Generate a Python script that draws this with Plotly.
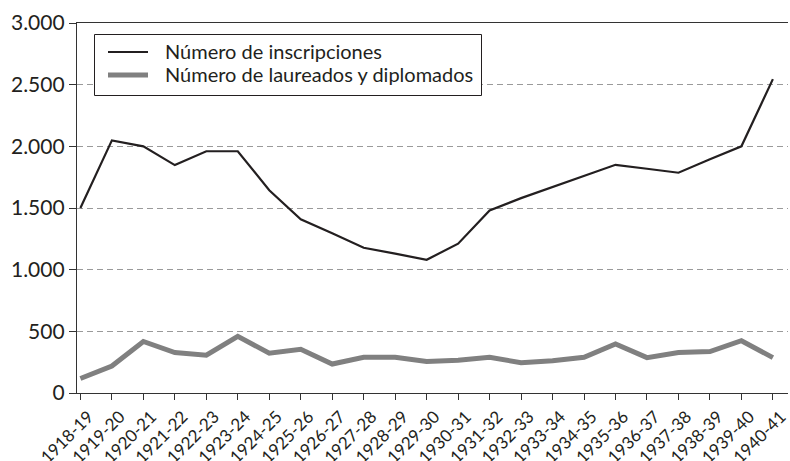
import plotly.graph_objects as go

categories = ["1918-19", "1919-20", "1920-21", "1921-22", "1922-23", "1923-24",
              "1924-25", "1925-26", "1926-27", "1927-28", "1928-29", "1929-30",
              "1930-31", "1931-32", "1932-33", "1933-34", "1934-35", "1935-36",
              "1936-37", "1937-38", "1938-39", "1939-40", "1940-41"]

inscripciones = [1500, 2048, 2000, 1848, 1960, 1960, 1644, 1408, 1295, 1178,
                 1130, 1080, 1211, 1480, 1580, 1670, 1760, 1850, 1818, 1786,
                 1895, 2000, 2545]

laureados = [118, 219, 418, 328, 306, 459, 323, 355, 235, 290, 290, 255, 265,
             290, 245, 262, 290, 397, 287, 328, 336, 424, 287]

y_ticks = [0, 500, 1000, 1500, 2000, 2500, 3000]

series_names = ["Número de inscripciones", "Número de laureados y diplomados"]

FONT = "Lato, 'Open Sans', sans-serif"
INK = "#231f20"
GRAY = "#808080"

W, H = 790, 461
ML, MR, MT, MB = 77, 2, 23, 68
PW, PH = W - ML - MR, H - MT - MB


def px_x(px):
    return (px - ML) / PW


def px_y(py):
    return 1 - (py - MT) / PH


fig = go.Figure()
fig.add_trace(go.Scatter(
    x=categories, y=inscripciones, mode="lines",
    name=series_names[0],
    line=dict(color=INK, width=2.2),
))
fig.add_trace(go.Scatter(
    x=categories, y=laureados, mode="lines",
    name=series_names[1],
    line=dict(color=GRAY, width=5),
))

# Legend drawn as box + samples + texts
shapes = [
    dict(type="rect", xref="paper", yref="paper",
         x0=px_x(94.5), x1=px_x(481.5), y0=px_y(95.5), y1=px_y(34.5),
         line=dict(color=INK, width=1), fillcolor="white", layer="above"),
    dict(type="line", xref="paper", yref="paper",
         x0=px_x(108), x1=px_x(148), y0=px_y(52), y1=px_y(52),
         line=dict(color=INK, width=2.2), layer="above"),
    dict(type="line", xref="paper", yref="paper",
         x0=px_x(108), x1=px_x(148), y0=px_y(75), y1=px_y(75),
         line=dict(color=GRAY, width=5), layer="above"),
]
annotations = [
    dict(xref="paper", yref="paper", x=px_x(163), y=px_y(row_y),
         xanchor="left", yanchor="middle", showarrow=False, text=name,
         font=dict(family=FONT, size=20, color=INK))
    for name, row_y in zip(series_names, [51, 74])
]

fig.update_layout(
    width=W, height=H,
    margin=dict(l=ML, r=MR, t=MT, b=MB, autoexpand=False),
    paper_bgcolor="white", plot_bgcolor="white",
    separators=",.",
    font=dict(family=FONT, color=INK, size=20),
    showlegend=False,
    shapes=shapes,
    annotations=annotations,
    xaxis=dict(
        type="category",
        range=[-0.108, 22.48],
        automargin=False,
        showline=True, linecolor="#333333", linewidth=1.3, mirror=True,
        ticks="outside", ticklen=6, tickcolor="#333333", tickwidth=1,
        tickangle=-45,
        ticklabelshift=8,
        tickfont=dict(family=FONT, size=17, color=INK),
        showgrid=False, zeroline=False,
    ),
    yaxis=dict(
        range=[0, 3000],
        automargin=False,
        tickvals=y_ticks,
        tickformat=",d",
        showline=True, linecolor="#333333", linewidth=1.3,
        ticks="outside", ticklen=7, tickcolor="#333333", tickwidth=1,
        tickfont=dict(family=FONT, size=21, color=INK),
        showgrid=True, gridcolor="#9a9a9a", gridwidth=1, griddash="6px,4px",
        zeroline=False,
    ),
)

fig.write_html("out.html",
               config={"displayModeBar": False},
               post_script="document.body.style.margin='0';document.body.style.overflow='hidden';")
